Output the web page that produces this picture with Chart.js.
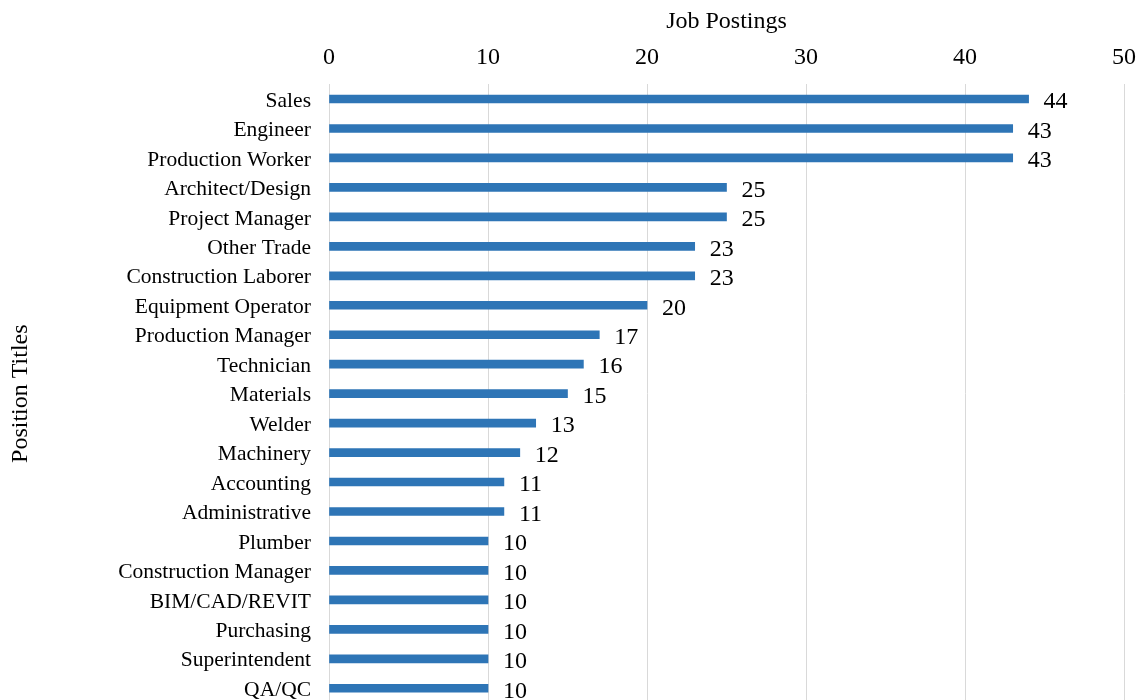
<!DOCTYPE html>
<html><head><meta charset="utf-8">
<script src="https://cdn.jsdelivr.net/npm/chart.js@4/dist/chart.umd.min.js"></script>
<style>html,body{margin:0;padding:0;overflow:hidden;background:#fff}canvas{display:block}</style>
</head><body><canvas id="c" width="1141" height="703"></canvas>
<script>
const categories = ["Sales","Engineer","Production Worker","Architect/Design","Project Manager","Other Trade","Construction Laborer","Equipment Operator","Production Manager","Technician","Materials","Welder","Machinery","Accounting","Administrative","Plumber","Construction Manager","BIM/CAD/REVIT","Purchasing","Superintendent","QA/QC"];
const postings = [44,43,43,25,25,23,23,20,17,16,15,13,12,11,11,10,10,10,10,10,10];
const xTicks = [0,10,20,30,40,50];
const FONT = "'Liberation Serif','Times New Roman',serif";

const labelPlugin = {
  id: 'valueLabels',
  afterDatasetsDraw(chart) {
    const ctx = chart.ctx;
    const meta = chart.getDatasetMeta(0);
    ctx.save();
    ctx.font = "24px " + FONT;
    ctx.fillStyle = "#000";
    ctx.textAlign = "left";
    ctx.textBaseline = "middle";
    meta.data.forEach((bar, i) => {
      ctx.fillText(String(postings[i]), bar.x + 15, bar.y + 3);
    });
    ctx.restore();
  }
};

new Chart(document.getElementById('c'), {
  type: 'bar',
  data: { labels: categories, datasets: [{ data: postings, backgroundColor: '#2E75B6', barThickness: 8 }] },
  options: {
    indexAxis: 'y', responsive: false, animation: false, devicePixelRatio: 1,
    layout: { padding: { left: 0, right: 17, top: 0, bottom: 0 } },
    plugins: { legend: { display: false }, tooltip: { enabled: false } },
    scales: {
      x: {
        position: 'top', min: 0, max: 50,
        afterBuildTicks: s => { s.ticks = xTicks.map(v => ({ value: v })); },
        afterFit: s => { s.height = 84.3; s.paddingLeft = 0; s.paddingRight = 0; },
        grid: { color: '#D9D9D9', lineWidth: 1, drawTicks: false },
        border: { display: false },
        ticks: { color: '#000', font: { family: FONT, size: 24 }, padding: 12 },
        title: { display: true, text: 'Job Postings', color: '#000', font: { family: FONT, size: 24 }, padding: { top: 7, bottom: 4 } }
      },
      y: {
        afterFit: s => { s.width = 329; s.paddingTop = 0; s.paddingBottom = 0; },
        grid: { display: false, drawTicks: false },
        border: { display: false },
        ticks: { color: '#000', font: { family: FONT, size: 21.5 }, padding: 18, autoSkip: false, labelOffset: 2 },
        title: { display: true, text: 'Position Titles', color: '#000', font: { family: FONT, size: 24 }, padding: { top: 6, bottom: 0 } }
      }
    }
  },
  plugins: [labelPlugin]
});
</script></body></html>
